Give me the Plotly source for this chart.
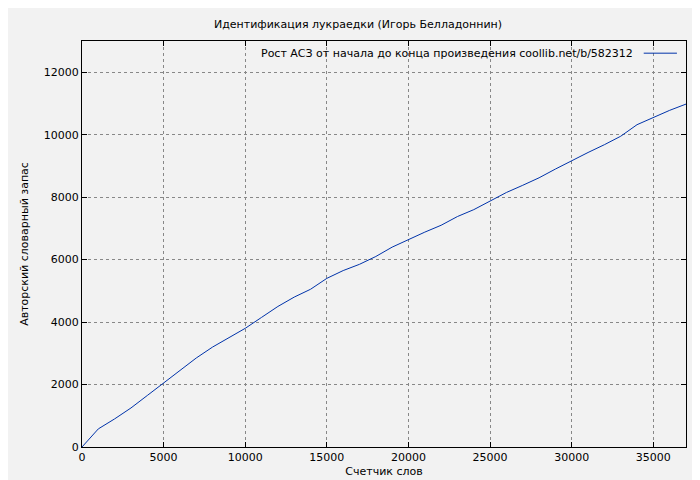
import plotly.graph_objects as go

words = [0, 1000, 2000, 3000, 4000, 5000, 6000, 7000, 8000, 9000, 10000, 11000, 12000,
         13000, 14000, 15000, 16000, 17000, 18000, 19000, 20000, 21000, 22000, 23000,
         24000, 25000, 26000, 27000, 28000, 29000, 30000, 31000, 32000, 33000, 34000,
         35000, 36000, 37000]
vocab = [0, 580, 900, 1250, 1650, 2050, 2450, 2850, 3200, 3500, 3800, 4150, 4500,
         4800, 5050, 5400, 5650, 5850, 6100, 6400, 6650, 6880, 7100, 7380,
         7600, 7870, 8150, 8380, 8620, 8900, 9170, 9430, 9680, 9950, 10320,
         10560, 10780, 10980]
title = "Идентификация лукраедки (Игорь Белладоннин)"
legend_label = "Рост АСЗ от начала до конца произведения coollib.net/b/582312"

fig = go.Figure(go.Scatter(x=words, y=vocab, mode="lines",
                           line=dict(color="#0033aa", width=1), showlegend=False))
axis_common = dict(showline=True, linecolor="black", linewidth=1, mirror="ticks",
                   ticks="inside", ticklen=5, tickcolor="black", tickformat="d",
                   showgrid=True, gridcolor="#888", griddash="dot", gridwidth=1,
                   zeroline=False, automargin=False, tickfont=dict(size=11, color="black"))
fig.update_layout(
    width=700, height=480,
    paper_bgcolor="#f2f2f2", plot_bgcolor="#f2f2f2",
    margin=dict(l=74, r=22, t=33, b=41),
    font=dict(family="DejaVu Sans", size=11, color="black"),
    title=dict(text=title, x=0.5, xanchor="center", y=0.967, yanchor="middle",
               font=dict(size=11)),
    xaxis=dict(range=[0, 37000], dtick=5000,
               title=dict(text="Счетчик слов", standoff=4, font=dict(size=11)), **axis_common),
    yaxis=dict(range=[0, 13000], dtick=2000,
               title=dict(text="Авторский словарный запас", standoff=12, font=dict(size=11)),
               **axis_common),
)
fig.add_annotation(xref="paper", yref="paper", x=0.915, y=0.99, xanchor="right",
                   yanchor="top", showarrow=False, text=legend_label, font=dict(size=11))
fig.add_shape(type="line", xref="paper", yref="paper", x0=0.93, x1=0.985, y0=0.97, y1=0.97,
              line=dict(color="#0033aa", width=1))
fig.write_html("out.html")
